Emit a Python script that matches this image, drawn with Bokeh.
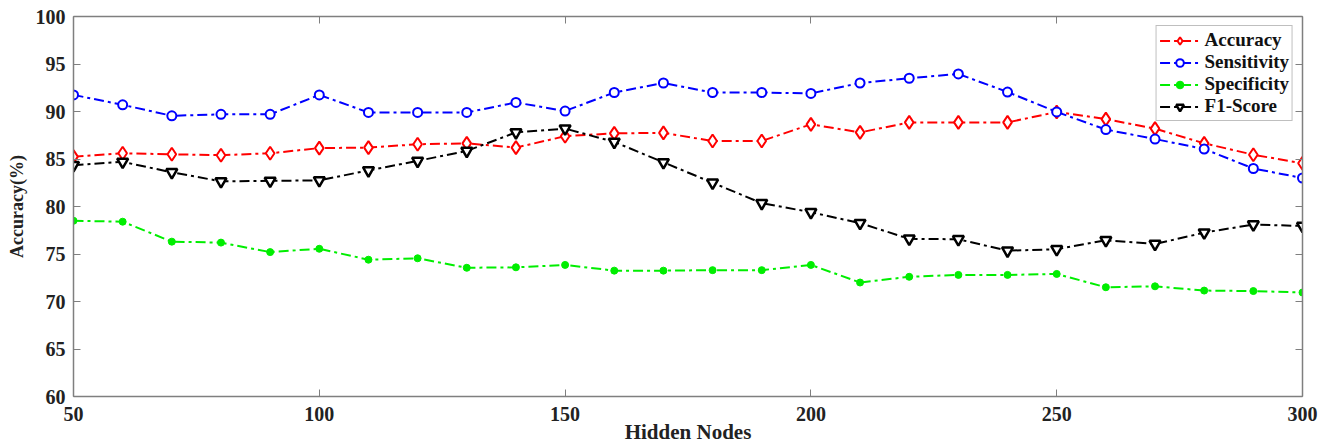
from bokeh.plotting import figure
from bokeh.models import LinearAxis, CustomJSTickFormatter, FixedTicker, Range1d
from bokeh.embed import file_html
from bokeh.resources import INLINE

hidden_nodes = [50, 60, 70, 80, 90, 100, 110, 120, 130, 140, 150, 160, 170, 180, 190,
                200, 210, 220, 230, 240, 250, 260, 270, 280, 290, 300]
accuracy = [85.25, 85.6, 85.5, 85.4, 85.6, 86.15, 86.2, 86.55, 86.65, 86.2, 87.4, 87.7, 87.75,
            86.9, 86.9, 88.65, 87.8, 88.85, 88.85, 88.85, 89.95, 89.2, 88.2, 86.65, 85.45, 84.55]
sensitivity = [91.75, 90.7, 89.55, 89.7, 89.7, 91.75, 89.9, 89.9, 89.9, 90.95, 90.05, 92.0, 93.0,
               92.0, 92.0, 91.9, 93.0, 93.5, 93.95, 92.05, 89.95, 88.1, 87.1, 86.05, 84.0, 83.0]
specificity = [78.5, 78.4, 76.3, 76.2, 75.2, 75.55, 74.4, 74.55, 73.55, 73.6, 73.85, 73.25, 73.25,
               73.3, 73.3, 73.85, 72.0, 72.6, 72.8, 72.8, 72.9, 71.5, 71.6, 71.15, 71.1, 70.95]
f1_score = [84.35, 84.7, 83.6, 82.65, 82.7, 82.75, 83.8, 84.8, 85.85, 87.8, 88.2, 86.8, 84.65,
            82.5, 80.35, 79.4, 78.25, 76.6, 76.55, 75.35, 75.5, 76.45, 76.05, 77.25, 78.1, 77.95]

x_ticks = [50, 100, 150, 200, 250, 300]
y_ticks = [60, 65, 70, 75, 80, 85, 90, 95, 100]
x_title = "Hidden Nodes"
y_title = "Accuracy(%)"

FONT = "Liberation Serif"
AX = "#7f7f7f"
TXT = "#222222"

p = figure(width=1337, height=447, output_backend="svg", toolbar_location=None,
           x_range=Range1d(50, 300), y_range=Range1d(60, 100),
           min_border_left=73, min_border_right=35, min_border_top=16, min_border_bottom=51,
           x_axis_label=x_title, y_axis_label=y_title)
p.outline_line_color = None
p.xgrid.visible = False
p.ygrid.visible = False
p.background_fill_color = "white"
p.border_fill_color = "white"

p.xaxis.ticker = FixedTicker(ticks=x_ticks)
p.yaxis.ticker = FixedTicker(ticks=y_ticks)

for ax in [p.xaxis[0], p.yaxis[0]]:
    ax.axis_line_color = AX
    ax.axis_line_width = 1.5
    ax.major_tick_line_color = AX
    ax.major_tick_in = 7
    ax.major_tick_out = 0
    ax.minor_tick_line_color = None
    ax.major_label_text_font = FONT
    ax.major_label_text_font_style = "bold"
    ax.major_label_text_font_size = "20px"
    ax.major_label_text_color = TXT
    ax.axis_label_text_font = FONT
    ax.axis_label_text_font_style = "bold"
    ax.axis_label_text_color = TXT

p.xaxis.axis_label_text_font_size = "21px"
p.yaxis.axis_label_text_font_size = "18px"
p.xaxis.major_label_standoff = 10
p.xaxis.axis_label_standoff = -4
p.yaxis.major_label_standoff = 8
p.yaxis.axis_label_standoff = 6

blank = CustomJSTickFormatter(code="return ''")
top = LinearAxis(ticker=FixedTicker(ticks=x_ticks), formatter=blank)
right = LinearAxis(ticker=FixedTicker(ticks=y_ticks), formatter=blank)
for ax in [top, right]:
    ax.axis_line_color = AX
    ax.axis_line_width = 1.5
    ax.major_tick_line_color = AX
    ax.major_tick_in = 7
    ax.major_tick_out = 0
    ax.minor_tick_line_color = None
    ax.major_label_standoff = 0
    ax.major_label_text_font_size = "1px"
p.add_layout(top, "above")
p.add_layout(right, "right")

DASH = "10 4 3 4"

p.line(hidden_nodes, accuracy, color="red", line_width=2, line_dash=DASH, legend_label="Accuracy")
p.scatter(hidden_nodes, accuracy, marker="diamond", size=13, line_color="red", line_width=2,
          fill_color="white", legend_label="Accuracy")

p.line(hidden_nodes, sensitivity, color="blue", line_width=2, line_dash=DASH, legend_label="Sensitivity")
p.scatter(hidden_nodes, sensitivity, marker="circle", size=9, line_color="blue", line_width=2,
          fill_color="white", legend_label="Sensitivity")

p.line(hidden_nodes, specificity, color="#00ee00", line_width=2, line_dash=DASH, legend_label="Specificity")
p.scatter(hidden_nodes, specificity, marker="circle", size=7, line_color="#00ee00", line_width=1,
          fill_color="#00ee00", legend_label="Specificity")

p.line(hidden_nodes, f1_score, color="black", line_width=2, line_dash=DASH, legend_label="F1-Score")
p.scatter(hidden_nodes, f1_score, marker="inverted_triangle", size=11, line_color="black", line_width=2.5,
          fill_color="white", legend_label="F1-Score")

lg = p.legend[0]
lg.location = "top_right"
lg.margin = 9
lg.border_line_color = AX
lg.border_line_width = 1.5
lg.background_fill_color = "white"
lg.background_fill_alpha = 1
lg.label_text_font = FONT
lg.label_text_font_style = "bold"
lg.label_text_font_size = "19px"
lg.label_text_color = "#111111"
lg.glyph_width = 40
lg.glyph_height = 19
lg.label_height = 19
lg.label_standoff = 5
lg.spacing = 0
lg.padding = 3

open("out.html", "w").write(file_html(p, INLINE))
